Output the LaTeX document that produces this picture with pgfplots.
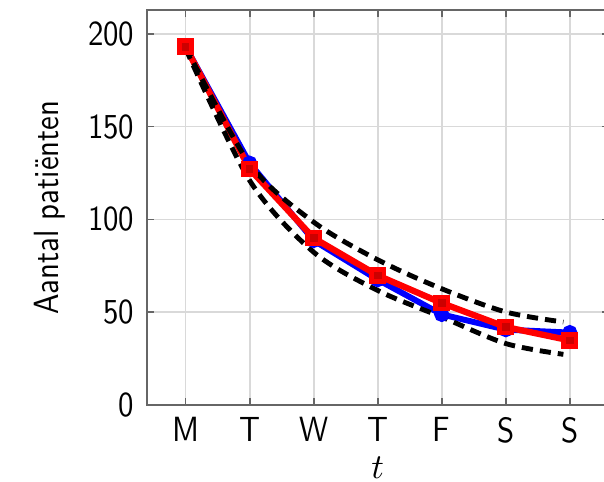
\documentclass[border=0pt]{standalone}
\usepackage{fontspec}
\setsansfont{lmsans10-regular.otf}[FakeStretch=0.88]
\usepackage{pgfplots}
\pgfplotsset{compat=1.18}

\begin{document}
\begin{tikzpicture}[font=\sffamily]
\begin{axis}[
  name=ax,
  scale only axis,
  width=132.1pt, height=112.9pt,
  xmin=-0.609, xmax=6.61,
  ymin=0, ymax=212.7,
  xtick={0,...,6},
  xticklabels={M,T,W,T,F,S,S},
  ytick={0,50,...,200},
  tick align=inside,
  major tick length=2pt,
  grid=major,
  major grid style={draw=gray!30, line width=0.5pt},
  axis line style={draw=black!60, line width=0.6pt},
  tick style={draw=black!60, line width=0.5pt},
  /pgf/number format/assume math mode=true,
  xlabel={$t$},
  xlabel style={yshift=3pt},
  ylabel={Aantal patiënten},
  ylabel style={at={(axis description cs:-0.15,0.5)}, anchor=south},
]
% gemeten aantallen
\addplot[blue, line width=1.7pt, mark=*, mark size=1.3pt,
  mark options={solid, fill=blue}]
  coordinates {(0,193) (1,130.3) (2,88.7) (3,67.6) (4,48.9) (5,40.7) (6,39.1)};
% model
\addplot[red, line width=1.8pt, mark=square*, mark size=1.75pt,
  mark options={solid, draw=red, fill=red!80!black, line width=1.3pt}]
  coordinates {(0,193) (1,127.2) (2,90.0) (3,69.9) (4,55.0) (5,42.1) (6,34.9)};
% grenzen
\addplot[black, line width=1.4pt, dash pattern=on 3.2pt off 2pt, smooth]
  coordinates {(0,193) (1,130) (2,98.6) (3,78.3) (4,62.7) (5,50.2) (5.9,44.8)};
\addplot[black, line width=1.4pt, dash pattern=on 3.2pt off 2pt, smooth]
  coordinates {(0,192) (1,121) (2,82.4) (3,61.8) (4,47.5) (5,33.2) (5.9,27.4)};
\end{axis}
\pgfresetboundingbox
\path[use as bounding box] ([xshift=-41.9pt,yshift=-21.7pt]ax.south west)
  rectangle ([xshift=130.7pt,yshift=2.9pt]ax.north west);
\end{tikzpicture}
\end{document}
